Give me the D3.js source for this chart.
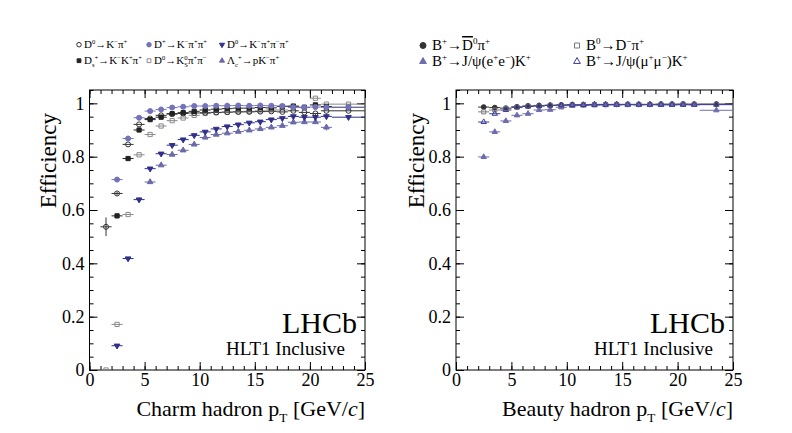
<!DOCTYPE html>
<html>
<head>
<meta charset="utf-8">
<script src="https://cdn.jsdelivr.net/npm/d3@7"></script>
<style>
  body { margin: 0; background: #fff; }
  text { font-family: "Liberation Serif", "DejaVu Serif", serif; }
</style>
</head>
<body>
<svg id="chart" width="792" height="433"></svg>
<script>
// bin edges in pT [GeV/c]; the last bin is 22-25
const binEdges = [1,2,3,4,5,6,7,8,9,10,11,12,13,14,15,16,17,18,19,20,21,22,25]
const xTicks = [0,5,10,15,20,25]
const yTicks = [0,0.2,0.4,0.6,0.8,1]
const yTickLabels = ["0","0.2","0.4","0.6","0.8","1"]

// charm hadrons (left)
const effD0Kpi    = [0.537,0.662,0.846,0.921,0.943,0.955,0.960,0.962,0.964,0.965,0.966,0.967,0.968,0.968,0.969,0.970,0.968,0.972,0.966,0.962,0.972,0.972]
const effDpKpipi  = [null,0.714,0.868,0.946,0.971,0.977,0.984,0.987,0.990,0.990,0.991,0.991,0.992,0.991,0.992,0.991,0.990,0.985,0.984,0.986,0.985,0.985]
const effDsKKpi   = [null,0.578,0.793,0.900,0.939,0.948,0.961,0.965,0.970,0.975,0.978,0.980,0.982,0.982,0.984,0.983,0.988,0.989,0.985,0.994,0.988,0.985]
const effD0Kspipi = [0.000,0.171,0.583,0.807,0.883,0.915,0.935,0.945,0.955,0.962,0.965,0.967,0.968,0.970,0.972,0.975,0.975,0.990,0.985,1.019,0.997,0.997]
const effD0K3pi   = [null,0.091,0.418,0.639,0.755,0.811,0.843,0.864,0.880,0.893,0.904,0.913,0.920,0.927,0.931,0.939,0.944,0.951,0.948,0.948,0.951,0.948]
const effLcpKpi   = [null,null,null,null,0.705,0.768,0.808,0.824,0.846,0.872,0.883,0.888,0.894,0.899,0.904,0.910,0.916,0.929,0.930,0.930,0.910,null]

// beauty hadrons (right)
const effBD0pi    = [null,0.986,0.984,0.982,0.987,0.990,0.992,0.993,0.994,0.995,0.995,0.996,0.996,0.996,0.996,0.996,0.996,0.997,0.997,0.997,0.997,0.997]
const effB0Dpi    = [null,0.968,0.975,0.980,0.986,0.990,0.990,0.992,0.993,0.994,0.995,0.995,0.995,0.996,0.996,0.996,0.996,0.996,0.996,0.997,0.996,0.997]
const effBJpsiEE  = [null,0.799,0.893,0.934,0.955,0.961,0.975,0.976,0.985,0.991,0.992,0.993,0.994,0.994,0.995,0.994,0.995,0.994,0.994,0.995,0.994,0.974]
const effBJpsiMM  = [null,0.930,0.961,0.975,0.985,0.988,0.990,0.992,0.993,0.994,0.994,0.995,0.995,0.995,0.995,0.995,0.995,0.995,0.995,0.995,0.995,0.995]

// the few vertical error bars that are visible (bin index -> error)
const errD0Kpi  = {0: 0.035, 1: 0.006}
const errD0K3pi = {1: 0.006, 3: 0.008, 19: 0.012, 20: 0.010}
const errLcpKpi = {20: 0.012}
const errBJpsiEE = {1: 0.008, 2: 0.006}

const charmSeries = [
  {label: "Λ_{c}^{+}→pK^{−}π^{+}", values: effLcpKpi, errs: errLcpKpi, shape: "triangle", fill: "#6a6aaa", stroke: "#6a6aaa"},
  {label: "D^{0}→K^{−}π^{+}π^{−}π^{+}", values: effD0K3pi, errs: errD0K3pi, shape: "triangleDown", fill: "#30308c", stroke: "#30308c"},
  {label: "D^{0}→K^{0}_{S}π^{+}π^{−}", values: effD0Kspipi, errs: {}, shape: "square", fill: "none", stroke: "#8a8a8a"},
  {label: "D^{0}→K^{−}π^{+}", values: effD0Kpi, errs: errD0Kpi, shape: "circle", fill: "none", stroke: "#333"},
  {label: "D_{s}^{+}→K^{−}K^{+}π^{+}", values: effDsKKpi, errs: {}, shape: "square", fill: "#222", stroke: "#222"},
  {label: "D^{+}→K^{−}π^{+}π^{+}", values: effDpKpipi, errs: {}, shape: "circle", fill: "#7373bb", stroke: "#7373bb"}
]
const charmLegendOrder = [3, 5, 1, 4, 2, 0]

const beautySeries = [
  {label: "B^{+}→~{D}^{0}π^{+}", values: effBD0pi, errs: {}, shape: "circle", fill: "#333", stroke: "#333"},
  {label: "B^{0}→D^{−}π^{+}", values: effB0Dpi, errs: {}, shape: "square", fill: "none", stroke: "#7a7a7a"},
  {label: "B^{+}→J/ψ(e^{+}e^{−})K^{+}", values: effBJpsiEE, errs: errBJpsiEE, shape: "triangle", fill: "#6c6cae", stroke: "#6c6cae"},
  {label: "B^{+}→J/ψ(μ^{+}μ^{−})K^{+}", values: effBJpsiMM, errs: {}, shape: "triangle", fill: "none", stroke: "#3a3a9a"}
]
const beautyLegendOrder = [0, 1, 2, 3]

const svg = d3.select("#chart")
const y = d3.scaleLinear().domain([0, 1.05]).range([370, 90])

// writes ROOT-like markup: ^{sup} _{sub} ~{overline} *{italic}
function richText(sel, str, size) {
  const re = /([\^_~*])\{([^}]*)\}|([^\^_~*{}]+)/g
  let shift = 0, prevSup = null, m
  while ((m = re.exec(str))) {
    const kind = m[1] || "", txt = m[1] ? m[2] : m[3]
    const target = kind === "^" ? -0.4 * size : kind === "_" ? 0.28 * size : 0
    const t = sel.append("tspan").attr("dy", target - shift).text(txt)
    if (kind === "^" || kind === "_") t.attr("font-size", size * 0.6)
    if (kind === "~") t.style("text-decoration", "overline")
    if (kind === "*") t.attr("font-style", "italic")
    // stack a subscript under the superscript right before it
    if (kind === "_" && prevSup) t.attr("dx", -prevSup.node().getComputedTextLength())
    prevSup = kind === "^" ? t : null
    shift = target
  }
  return sel
}

// marker area per shape, so the symbols look about the same size
const shapeScale = {circle: 1, square: 0.9, triangle: 0.7, triangleDown: 0.7}

function symbolPath(shape, size) {
  const type = shape === "circle" ? d3.symbolCircle : shape === "square" ? d3.symbolSquare : d3.symbolTriangle
  return d3.symbol().type(type).size(size * shapeScale[shape])()
}

function drawMarker(g, s, cx, cy, size) {
  g.append("path")
    .attr("d", symbolPath(s.shape, size))
    .attr("transform", `translate(${cx},${cy})` + (s.shape === "triangleDown" ? " rotate(180)" : ""))
    .attr("fill", s.fill)
    .attr("stroke", s.stroke)
    .attr("stroke-width", 1)
}

function drawPanel(x0, x1, series, opts) {
  const x = d3.scaleLinear().domain([0, 25]).range([x0, x1])
  const g = svg.append("g")

  // ticks (inward, on all four sides)
  const minorX = d3.range(0, 26, 1), minorY = d3.range(0, 1.051, 0.05)
  const addAxis = (axis, transform, labels) => {
    const a = g.append("g").attr("transform", transform).call(axis)
    a.select(".domain").remove()
    a.selectAll("line").attr("stroke", "#000")
    if (labels) a.selectAll("text").attr("font-size", 18).attr("fill", "#000").attr("font-family", "Liberation Serif")
    return a
  }
  addAxis(d3.axisBottom(x).tickValues(minorX).tickSize(-4).tickFormat(""), `translate(0,${y(0)})`)
  addAxis(d3.axisBottom(x).tickValues(xTicks).tickSize(-8).tickPadding(3).tickFormat(d3.format("d")), `translate(0,${y(0)})`, true)
  addAxis(d3.axisTop(x).tickValues(minorX).tickSize(-4).tickFormat(""), `translate(0,${y(1.05)})`)
  addAxis(d3.axisTop(x).tickValues(xTicks).tickSize(-8).tickFormat(""), `translate(0,${y(1.05)})`)
  addAxis(d3.axisLeft(y).tickValues(minorY).tickSize(-4).tickFormat(""), `translate(${x0},0)`)
  addAxis(d3.axisLeft(y).tickValues(yTicks).tickSize(-8).tickPadding(5).tickFormat((d, i) => yTickLabels[i]), `translate(${x0},0)`, true)
  addAxis(d3.axisRight(y).tickValues(minorY).tickSize(-4).tickFormat(""), `translate(${x1},0)`)
  addAxis(d3.axisRight(y).tickValues(yTicks).tickSize(-8).tickFormat(""), `translate(${x1},0)`)

  g.append("rect")
    .attr("x", x0).attr("y", y(1.05))
    .attr("width", x1 - x0).attr("height", y(0) - y(1.05))
    .attr("fill", "none").attr("stroke", "#000").attr("stroke-width", 1)

  // data: horizontal bin bars, vertical error bars, markers
  const clip = "clip" + x0
  g.append("clipPath").attr("id", clip).append("rect")
    .attr("x", x0).attr("y", y(1.05)).attr("width", x1 - x0).attr("height", y(0) - y(1.05))
  const dg = g.append("g").attr("clip-path", `url(#${clip})`)
  series.forEach(s => {
    s.values.forEach((v, i) => {
      if (v === null) return
      const lo = binEdges[i], hi = binEdges[i + 1], c = (lo + hi) / 2
      dg.append("line")
        .attr("x1", x(lo)).attr("x2", x(hi)).attr("y1", y(v)).attr("y2", y(v))
        .attr("stroke", s.stroke).attr("stroke-width", 1)
      const e = s.errs[i]
      if (e) {
        dg.append("line")
          .attr("x1", x(c)).attr("x2", x(c)).attr("y1", y(v - e)).attr("y2", y(v + e))
          .attr("stroke", s.stroke).attr("stroke-width", 1)
      }
    })
  })
  series.forEach(s => {
    s.values.forEach((v, i) => {
      if (v === null) return
      const c = (binEdges[i] + binEdges[i + 1]) / 2
      drawMarker(dg, s, x(c), y(v), opts.markerSize)
    })
  })

  // titles
  svg.append("text")
    .attr("transform", `translate(${opts.yTitleX},${opts.yTitleY}) rotate(-90)`)
    .attr("text-anchor", "end").attr("font-size", 23).text("Efficiency")
  richText(svg.append("text").attr("x", x1).attr("y", 416).attr("text-anchor", "end").attr("font-size", 22),
    opts.xTitle, 22)
  svg.append("text").attr("x", x1 - 8).attr("y", 333).attr("text-anchor", "end")
    .attr("font-size", 30).text("LHCb")
  svg.append("text").attr("x", x1 - 20).attr("y", 355).attr("text-anchor", "end")
    .attr("font-size", 19).text("HLT1 Inclusive")
  return x
}

function drawLegend(series, order, cols, rows, fontSize, markerSize) {
  order.forEach((idx, k) => {
    const s = series[idx]
    const col = cols[k % cols.length], row = rows[Math.floor(k / cols.length)]
    drawMarker(svg, s, col.marker, row - fontSize * 0.3, markerSize)
    richText(svg.append("text").attr("x", col.text).attr("y", row).attr("font-size", fontSize), s.label, fontSize)
  })
}

drawPanel(89.5, 365, charmSeries, {markerSize: 20, yTitleX: 56, yTitleY: 113, xTitle: "Charm hadron p_{T} [GeV/*{c}]"})
drawPanel(456, 733, beautySeries, {markerSize: 18, yTitleX: 424, yTitleY: 113, xTitle: "Beauty hadron p_{T} [GeV/*{c}]"})

drawLegend(charmSeries, charmLegendOrder,
  [{marker: 79, text: 84}, {marker: 149, text: 154}, {marker: 222, text: 227}], [48, 64], 11, 16)
drawLegend(beautySeries, beautyLegendOrder,
  [{marker: 423, text: 432}, {marker: 577, text: 586}], [50, 66], 15, 28)
</script>
</body>
</html>
